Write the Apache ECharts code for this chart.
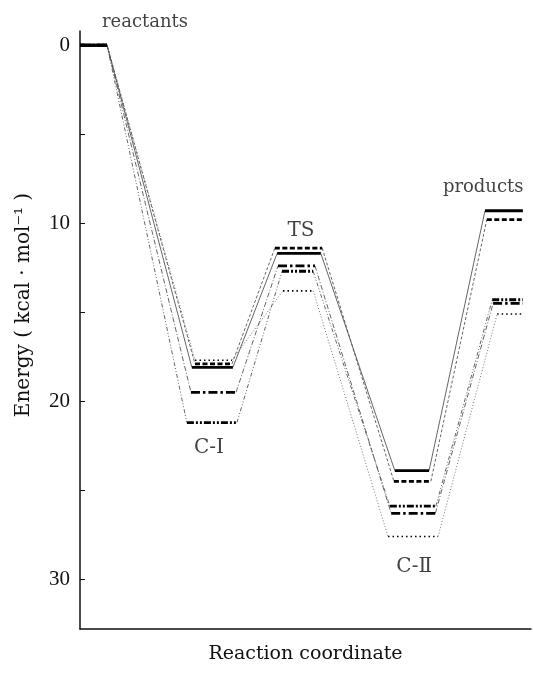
<!DOCTYPE html>
<html>
<head>
<meta charset="utf-8">
<script src="https://cdn.jsdelivr.net/npm/echarts@6/dist/echarts.min.js"></script>
<style>
  html, body { margin: 0; padding: 0; background: #fff; }
  #chart { width: 533px; height: 673px; }
</style>
</head>
<body>
<div id="chart"></div>
<script>
// Stationary points along the reaction path
const stages = ['reactants', 'C-I', 'TS', 'C-Ⅱ', 'products'];

// Relative energies (kcal/mol) of each stationary point, one array per curve
const energySolid      = [0, 18.1, 11.7, 23.9, 9.3];
const energyDashed     = [0, 17.9, 11.4, 24.5, 9.8];
const energyDashDot    = [0, 19.5, 12.4, 26.3, 14.5];
const energyDashDotDot = [0, 21.2, 12.7, 25.9, 14.3];
const energyDotted     = [0, 17.7, 13.8, 27.6, 15.1];

// Reaction-coordinate extent [start, end] of each level, per curve
const spanSolid      = [[0, 6], [24.8, 33.9], [43.7, 53.4], [69.8, 77.4], [89.8, 98.2]];
const spanDashed     = [[0, 6], [25.5, 33.7], [43.2, 53.7], [69.6, 77.8], [90.2, 98.2]];
const spanDashDot    = [[0, 6], [24.6, 34.6], [43.9, 52.1], [69.0, 78.8], [91.6, 98.2]];
const spanDashDotDot = [[0, 6], [23.7, 34.8], [44.8, 51.7], [68.7, 78.9], [91.4, 98.2]];
const spanDotted     = [[0, 6], [25.5, 33.7], [45.0, 51.7], [68.3, 79.4], [92.5, 98.2]];

// Where each stage's caption sits, in data coordinates [coordinate, energy]
const stageLabelPos = [[14.4, -1.3], [28.6, 22.6], [49.0, 10.4], [74.1, 29.3], [89.4, 8.0]];

// Axis ticks
const yTickValues  = [0, 5, 10, 15, 20, 25, 30];
const yLabelValues = [0, 10, 20, 30];

const curves = [
  { e: energySolid,      s: spanSolid,
    level: { type: 'solid', width: 2.8 }, link: { type: 'solid', width: 0.9 } },
  { e: energyDashed,     s: spanDashed,
    level: { type: [5, 2.5], width: 2.8 }, link: { type: [3, 2], width: 0.9 } },
  { e: energyDashDot,    s: spanDashDot,
    level: { type: [9, 3, 2.5, 3], width: 2.8 }, link: { type: [5, 2, 1, 2], width: 0.9 } },
  { e: energyDashDotDot, s: spanDashDotDot,
    level: { type: [7, 2, 2, 2, 2, 2], width: 2.8 }, link: { type: [4, 2, 1, 2, 1, 2], width: 0.9 } },
  { e: energyDotted,     s: spanDotted,
    level: { type: [1.5, 3], width: 1.6 }, link: { type: [1, 2], width: 0.8 } }
];

const series = [];
curves.forEach(function (c) {
  // thick horizontal levels, separated by gaps
  const levelData = [];
  // thin connectors from the end of one level to the start of the next
  const linkData = [];
  c.e.forEach(function (en, i) {
    levelData.push([c.s[i][0], en], [c.s[i][1], en], [c.s[i][1], '-']);
    if (i < c.e.length - 1) {
      linkData.push([c.s[i][1], en], [c.s[i + 1][0], c.e[i + 1]], [c.s[i + 1][0], '-']);
    }
  });
  series.push({
    type: 'line', data: linkData, showSymbol: false, symbol: 'none',
    connectNulls: false, silent: true, z: 2,
    lineStyle: { color: '#555', width: c.link.width, type: c.link.type }
  });
  series.push({
    type: 'line', data: levelData, showSymbol: false, symbol: 'none',
    connectNulls: false, silent: true, z: 3,
    lineStyle: { color: '#000', width: c.level.width, type: c.level.type, cap: 'butt' }
  });
});

// stage captions: lower-case words a little smaller than the state symbols
series.push({
  type: 'scatter', symbolSize: 0, clip: false, silent: true, z: 5,
  data: stages.map(function (name, i) {
    const lower = name === name.toLowerCase();
    return { value: stageLabelPos[i], name: name, label: { fontSize: lower ? 18 : 20 } };
  }),
  label: {
    show: true, position: 'inside', formatter: '{b}',
    fontFamily: 'DejaVu Serif', fontSize: 18, color: '#111'
  }
});

const chart = echarts.init(document.getElementById('chart'), null, { renderer: 'canvas' });
chart.setOption({
  animation: false,
  backgroundColor: '#fff',
  grid: { left: 80, right: 2, top: 31, bottom: 44, containLabel: false },
  xAxis: {
    type: 'value', min: 0, max: 100, position: 'bottom',
    name: 'Reaction coordinate', nameLocation: 'middle', nameGap: 16,
    nameTextStyle: { fontFamily: 'DejaVu Serif', fontSize: 19, color: '#111' },
    axisLine: { show: true, onZero: false, lineStyle: { color: '#111', width: 1.5 } },
    axisTick: { show: false }, axisLabel: { show: false }, splitLine: { show: false }
  },
  yAxis: {
    type: 'value', inverse: true, min: -0.8, max: 32.8,
    name: 'Energy ( kcal · mol⁻¹ )', nameLocation: 'middle', nameGap: 46,
    nameTextStyle: { fontFamily: 'DejaVu Serif', fontSize: 20, color: '#111', padding: [0, 0, 0, 50] },
    axisLine: { show: true, onZero: false, lineStyle: { color: '#111', width: 1.5 } },
    axisTick: { show: true, inside: true, length: 5, customValues: yTickValues,
                lineStyle: { color: '#111', width: 1 } },
    axisLabel: { show: true, customValues: yLabelValues, margin: 10,
                 fontFamily: 'Liberation Serif', fontSize: 21, color: '#111' },
    splitLine: { show: false }
  },
  series: series
});
</script>
</body>
</html>
